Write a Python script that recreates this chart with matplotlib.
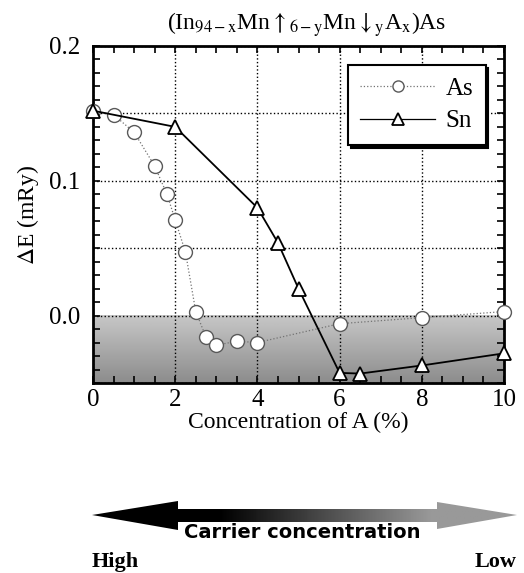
import numpy as np
import matplotlib
matplotlib.use('Agg')
import matplotlib.pyplot as plt
from matplotlib.patches import Polygon
from matplotlib.ticker import MultipleLocator, FuncFormatter

plt.rcParams['font.family'] = ['Liberation Serif', 'DejaVu Serif']
plt.rcParams['mathtext.fontset'] = 'stix'

# Data
as_x = [0.0, 0.5, 1.0, 1.5, 1.8, 2.0, 2.25, 2.5, 2.75, 3.0, 3.5, 4.0, 6.0, 8.0, 10.0]
as_y = [0.152, 0.149, 0.136, 0.111, 0.090, 0.071, 0.047, 0.003, -0.016, -0.022,
        -0.019, -0.020, -0.006, -0.0015, 0.003]
sn_x = [0.0, 2.0, 4.0, 4.5, 5.0, 6.0, 6.5, 8.0, 10.0]
sn_y = [0.152, 0.140, 0.080, 0.054, 0.020, -0.0425, -0.043, -0.037, -0.028]

W, H = 524, 573
fig = plt.figure(figsize=(W / 100, H / 100), dpi=100)
ax = fig.add_axes([93 / W, 1 - 383 / H, 411 / W, 337 / H])

ax.set_xlim(0, 10)
ax.set_ylim(-0.05, 0.2)

# shaded region below zero, lighter near zero
grad = np.linspace(0.78, 0.55, 100).reshape(-1, 1)
ax.imshow(grad, cmap='gray', vmin=0, vmax=1, aspect='auto',
          extent=[0, 10, -0.05, 0.0], origin='upper', zorder=0)

ax.plot(as_x, as_y, color='0.45', lw=0.9, ls=':', marker='o', ms=10,
        mfc='white', mec='0.35', mew=1.0, label='As', zorder=3, clip_on=False)
ax.plot(sn_x, sn_y, color='black', lw=1.3, marker='^', ms=10,
        mfc='white', mec='black', mew=1.3, label='Sn', zorder=3, clip_on=False)

ax.xaxis.set_major_locator(MultipleLocator(2))
ax.xaxis.set_minor_locator(MultipleLocator(0.5))
ax.yaxis.set_major_locator(MultipleLocator(0.05))
ax.yaxis.set_minor_locator(MultipleLocator(0.01))
ax.yaxis.set_major_formatter(FuncFormatter(
    lambda v, p: f'{v:.1f}' if abs(v * 10 - round(v * 10)) < 1e-6 else ''))
ax.tick_params(which='both', direction='in', top=True, right=True,
               length=5, width=1.2, labelsize=18)
ax.tick_params(axis='x', pad=4)
ax.tick_params(axis='y', pad=9)
ax.grid(True, which='major', color='black', ls=':', lw=1.0)
for s in ax.spines.values():
    s.set_linewidth(2)

ax.set_xlabel('Concentration of A (%)', fontsize=17, labelpad=1)
ax.set_ylabel(r'$\mathit{\Delta}$E (mRy)', fontsize=17, labelpad=6)
ax.set_title(r'(In$_{\mathrm{94-x}}$Mn$\uparrow_{\mathrm{6-y}}$Mn$\downarrow_{\mathrm{y}}$A$_{\mathrm{x}}$)As',
             fontsize=17, pad=12, x=0.52)

leg = ax.legend(loc='upper right', bbox_to_anchor=(0.955, 0.944), fontsize=18,
                handlelength=3.0, fancybox=False, framealpha=1, edgecolor='black',
                shadow={'color': 'black', 'alpha': 1}, borderpad=0.5,
                borderaxespad=0, labelspacing=0.4, handletextpad=0.4,
                markerscale=0.8)
leg.get_frame().set_linewidth(1.5)
for ln in leg.get_lines():
    ln.set_linewidth(0.9)

# carrier concentration arrow
bax = fig.add_axes([0, 0, 1, 1], zorder=-1)
bax.set_xlim(0, W)
bax.set_ylim(H, 0)
bax.axis('off')
arrow = Polygon([(92, 515), (178, 501), (178, 509), (437, 509), (437, 502),
                 (517, 515), (437, 529), (437, 522), (178, 522), (178, 530)],
                closed=True, facecolor='none', edgecolor='none')
bax.add_patch(arrow)
xs = np.linspace(0, 1, 300)
shade = np.where(xs < 0.3, 0.0, np.clip((xs - 0.3) / 0.5, 0, 1) * 0.6)
img = bax.imshow(shade.reshape(1, -1), cmap='gray', vmin=0, vmax=1, aspect='auto',
                 extent=[92, 517, 530, 500])
img.set_clip_path(arrow)
bax.text(302, 533, 'Carrier concentration', ha='center', va='center',
         fontsize=14, fontweight='heavy', family='DejaVu Sans')
bax.text(92, 562, 'High', ha='left', va='center', fontsize=16, fontweight='bold')
bax.text(517, 562, 'Low', ha='right', va='center', fontsize=16, fontweight='bold')

fig.savefig('out.png', dpi=100)
